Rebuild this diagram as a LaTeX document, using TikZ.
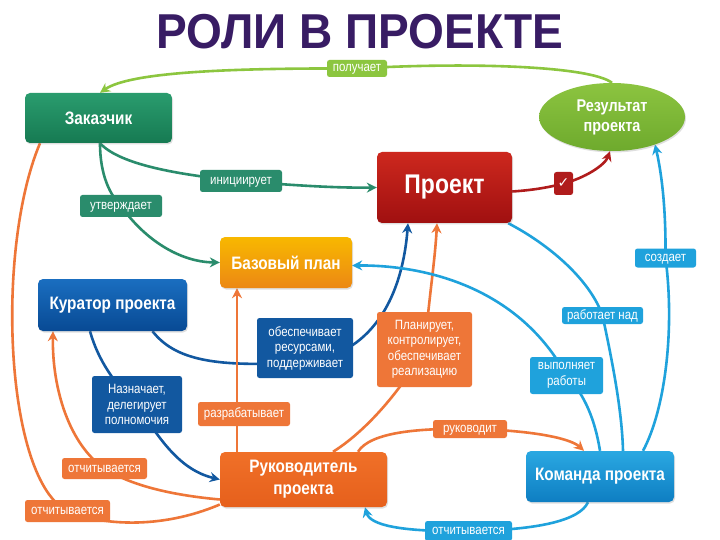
\documentclass[tikz,border=0pt]{standalone}
\usepackage{fontspec}
\setmainfont{Liberation Sans}
\newfontfamily\nodefont[FakeStretch=0.85]{Liberation Sans}
\newfontfamily\titlefont[FakeStretch=0.94]{Liberation Sans}
\newfontfamily\symfont{DejaVu Sans}
\usetikzlibrary{arrows.meta,shadows,calc,shapes.geometric}
\pgfdeclarelayer{background}
\pgfsetlayers{background,main}
\definecolor{titlec}{RGB}{56,28,100}
\definecolor{zakT}{RGB}{42,156,110}\definecolor{zakB}{RGB}{22,122,82}
\definecolor{resT}{RGB}{140,196,64}\definecolor{resB}{RGB}{110,170,45}
\definecolor{prjT}{RGB}{205,40,30}\definecolor{prjB}{RGB}{160,16,16}
\definecolor{bazT}{RGB}{248,184,0}\definecolor{bazB}{RGB}{236,136,20}
\definecolor{kurT}{RGB}{26,110,192}\definecolor{kurB}{RGB}{8,74,148}
\definecolor{rukT}{RGB}{240,112,40}\definecolor{rukB}{RGB}{230,96,28}
\definecolor{komT}{RGB}{42,168,226}\definecolor{komB}{RGB}{14,126,194}
\definecolor{cgreen}{RGB}{42,140,108}
\definecolor{clgreen}{RGB}{140,198,63}
\definecolor{cred}{RGB}{176,28,28}
\definecolor{cdblue}{RGB}{18,88,160}
\definecolor{corange}{RGB}{238,118,56}
\definecolor{clblue}{RGB}{31,162,220}
\tikzset{
  box/.style={rounded corners=5pt, text=white, align=center, inner sep=0pt,
    font=\nodefont\bfseries\fontsize{18}{20}\selectfont,
    drop shadow={opacity=0.25, shadow xshift=1pt, shadow yshift=-1.5pt}},
  lbl/.style={rounded corners=2.5pt, text=white, align=center, inner sep=0pt,
    font=\nodefont\fontsize{13.5}{15.5}\selectfont},
  lblone/.style={rounded corners=2.5pt, text=white, inner sep=0pt,
    text height=9.5pt, text depth=2.5pt,
    font=\nodefont\fontsize{13.5}{15.5}\selectfont},
  con/.style={line width=2.6pt},
  arr/.style={-{Stealth[length=10pt,width=10pt]}}
}
\begin{document}
\begin{tikzpicture}[x=1pt,y=-1pt]
\useasboundingbox (0,0) rectangle (720,540);
% title
\node (title) at (360,32) {\titlefont\bfseries\fontsize{49}{49}\selectfont\color{titlec}РОЛИ В ПРОЕКТЕ};
% main nodes
\node[box, top color=zakT, bottom color=zakB, minimum width=147pt, minimum height=50pt] (zak) at (98.5,118) {Заказчик};
\node[box, ellipse, top color=resT, bottom color=resB, minimum width=146pt, minimum height=68pt, font=\nodefont\bfseries\fontsize{17}{20}\selectfont] (res) at (612,117) {Результат\\проекта};
\node[box, top color=prjT, bottom color=prjB, minimum width=135pt, minimum height=71pt, font=\nodefont\bfseries\fontsize{27}{30}\selectfont] (prj) at (444.5,187.5) {Проект};
\node[box, top color=bazT, bottom color=bazB, minimum width=132pt, minimum height=51pt] (baz) at (286,262.5) {Базовый план};
\node[box, top color=kurT, bottom color=kurB, minimum width=149pt, minimum height=52pt] (kur) at (112.5,305) {Куратор проекта};
\node[box, top color=rukT, bottom color=rukB, minimum width=167pt, minimum height=55pt, font=\nodefont\bfseries\fontsize{18}{22}\selectfont] (ruk) at (303.5,479.5) {Руководитель\\проекта};
\node[box, top color=komT, bottom color=komB, minimum width=148pt, minimum height=51pt] (kom) at (600,476.5) {Команда проекта};
% labels
\node[lblone, fill=clgreen, minimum width=60pt, minimum height=17pt] (lpol) at (357,68.5) {получает};
\node[lblone, fill=cgreen, minimum width=82pt, minimum height=22pt] (lini) at (241,181) {инициирует};
\node[lblone, fill=cgreen, minimum width=82pt, minimum height=22pt] (lutv) at (121,206) {утверждает};
\node[lbl, fill=cred, minimum width=19pt, minimum height=23pt, font=\symfont\bfseries\fontsize{14}{15}\selectfont] (lchk) at (563.5,183.5) {✓};
\node[lbl, fill=cdblue, minimum width=96pt, minimum height=60pt] (lobe) at (305,348) {обеспечивает\\ресурсами,\\поддерживает};
\node[lbl, fill=cdblue, minimum width=90pt, minimum height=57pt] (lnaz) at (137,404.5) {Назначает,\\делегирует\\полномочия};
\node[lblone, fill=corange, minimum width=92pt, minimum height=24pt] (lraz) at (244,414) {разрабатывает};
\node[lblone, fill=corange, minimum width=85pt, minimum height=21pt] (lot1) at (104.5,468.5) {отчитывается};
\node[lblone, fill=corange, minimum width=85pt, minimum height=22pt] (lot2) at (67.5,511) {отчитывается};
\node[lbl, fill=corange, minimum width=95pt, minimum height=75pt] (lpla) at (424.5,349.5) {Планирует,\\контролирует,\\обеспечивает\\реализацию};
\node[lblone, fill=corange, minimum width=74pt, minimum height=18pt] (lruk) at (470,429) {руководит};
\node[lblone, fill=clblue, minimum width=87pt, minimum height=20pt] (lot3) at (468.5,531) {отчитывается};
\node[lbl, fill=clblue, minimum width=73pt, minimum height=37pt] (lvyp) at (566.5,375.5) {выполняет\\работы};
\node[lblone, fill=clblue, minimum width=81pt, minimum height=17pt] (lrab) at (602.5,315.5) {работает над};
\node[lblone, fill=clblue, minimum width=61pt, minimum height=19pt] (lsoz) at (665.5,258) {создает};
% connectors
\begin{pgfonlayer}{background}
\fill[white] (0,0) rectangle (720,540);
\draw[con, arr, clgreen] (res.north) .. controls (590,66) and (470,62) .. (lpol.center)
  .. controls (230,68) and (130,72) .. ([xshift=1.5pt]zak.north);
\draw[con, arr, cgreen] ([xshift=1.5pt]zak.south) .. controls (120,165) and (180,175) .. (lini.center)
  .. controls (300,186) and (340,188) .. (prj.west);
\draw[con, arr, cgreen] ([xshift=1.5pt]zak.south) .. controls (100,175) and (110,195) .. (lutv.center)
  .. controls (145,240) and (180,262) .. (baz.west);
\draw[con, arr, cred] ([yshift=-4pt]prj.east) .. controls (535,190) and (550,187) .. (lchk.center)
  .. controls (585,178) and (605,165) .. ([xshift=-2pt]res.south);
\draw[con, arr, cdblue] ([xshift=40pt]kur.south) .. controls (175,360) and (215,368) .. ([yshift=-14pt]lobe.center)
  .. controls (370,355) and (402,300) .. ([xshift=-36.5pt]prj.south);
\draw[con, arr, cdblue] ([xshift=-22.5pt]kur.south) .. controls (98,360) and (115,385) .. (lnaz.center)
  .. controls (160,440) and (180,470) .. (ruk.west);
\draw[con, arr, corange] ([xshift=-66.5pt]ruk.north) -- ([xshift=-49pt]baz.south);
\draw[con, arr, corange] ([xshift=29.5pt]ruk.north) .. controls (360,435) and (395,400) .. (lpla.center)
  .. controls (430,290) and (435,260) .. ([xshift=-7.5pt]prj.south);
\draw[con, arr, corange] ([yshift=-20pt]ruk.west) .. controls (170,495) and (130,485) .. (lot1.center)
  .. controls (70,445) and (52,390) .. ([xshift=-59.5pt]kur.south);
\draw[con, corange] ([yshift=-25pt]ruk.west) .. controls (160,530) and (100,525) .. (lot2.center)
  .. controls (5,480) and (-5,250) .. ([xshift=-58.5pt]zak.south);
\draw[con, arr, corange] ([xshift=54.5pt]ruk.north) .. controls (370,432) and (420,428) .. (lruk.center)
  .. controls (530,430) and (570,438) .. ([xshift=-16pt]kom.north);
\draw[con, arr, clblue] ([xshift=-12pt]kom.south) .. controls (580,520) and (540,530) .. (lot3.center)
  .. controls (400,532) and (370,525) .. ([xshift=61.5pt]ruk.south);
\draw[con, arr, clblue] (kom.north) .. controls (595,420) and (585,395) .. (lvyp.center)
  .. controls (520,290) and (430,265) .. ([yshift=-3pt]baz.east);
\draw[con, clblue] ([xshift=23pt]kom.north) .. controls (622,410) and (612,360) .. (lrab.center)
  .. controls (590,280) and (550,245) .. ([xshift=-4pt]prj.south east);
\draw[con, arr, clblue] ([xshift=43pt]kom.north) .. controls (665,410) and (675,330) .. (lsoz.center)
  .. controls (666,210) and (662,175) .. ($(res.center)+(43,27.5)$);
\end{pgfonlayer}
\end{tikzpicture}
\end{document}
